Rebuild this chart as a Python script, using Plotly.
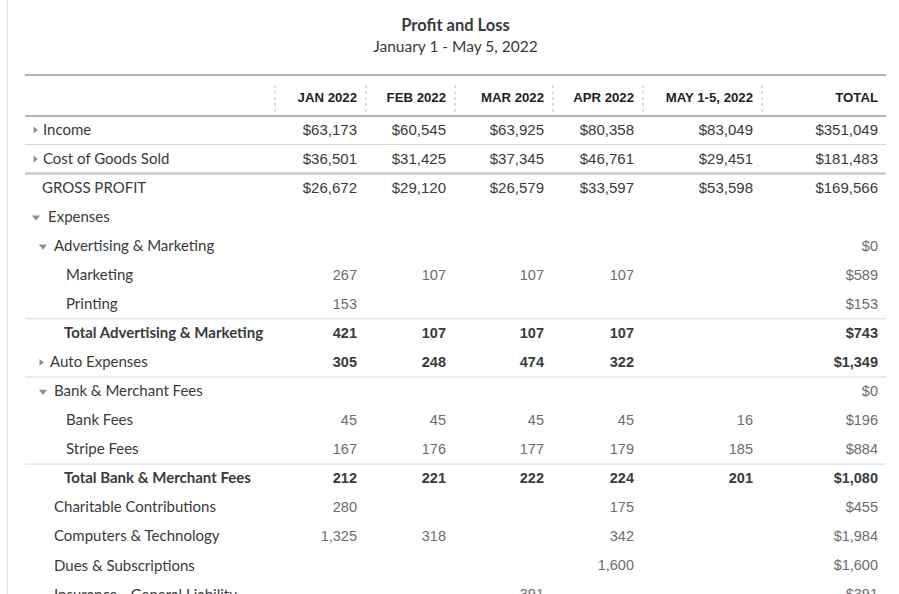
import plotly.graph_objects as go

# ---------------- data ----------------
title = "Profit and Loss"
subtitle = "January 1 - May 5, 2022"
columns = ["JAN 2022", "FEB 2022", "MAR 2022", "APR 2022", "MAY 1-5, 2022", "TOTAL"]

row_labels = [
    "Income", "Cost of Goods Sold", "GROSS PROFIT", "Expenses",
    "Advertising & Marketing", "Marketing", "Printing",
    "Total Advertising & Marketing", "Auto Expenses", "Bank & Merchant Fees",
    "Bank Fees", "Stripe Fees", "Total Bank & Merchant Fees",
    "Charitable Contributions", "Computers & Technology",
    "Dues & Subscriptions", "Insurance - General Liability",
]
row_kinds = ["section", "section", "section", "group", "group", "item", "item",
             "total", "total", "group", "item", "item", "total",
             "item", "item", "item", "item"]

jan = [63173, 36501, 26672, None, None, 267, 153, 421, 305, None, 45, 167, 212, 280, 1325, None, None]
feb = [60545, 31425, 29120, None, None, 107, None, 107, 248, None, 45, 176, 221, None, 318, None, None]
mar = [63925, 37345, 26579, None, None, 107, None, 107, 474, None, 45, 177, 222, None, None, None, 391]
apr = [80358, 46761, 33597, None, None, 107, None, 107, 322, None, 45, 179, 224, 175, 342, 1600, None]
may = [83049, 29451, 53598, None, None, None, None, None, None, None, 16, 185, 201, None, None, None, None]
total = [351049, 181483, 169566, None, 0, 589, 153, 743, 1349, 0, 196, 884, 1080, 455, 1984, 1600, 391]
series = [jan, feb, mar, apr, may, total]

# ---------------- layout / style ----------------
W, H = 899, 594
X_LEFT, X_RIGHT = 25, 886
col_left = [275, 366, 455, 553, 643, 762]
col_right = [c - 9 for c in col_left[1:]] + [X_RIGHT - 8]
ROW0, ROW_H = 130, 29.05
TEXT_DY = 1
HEADER_Y, TOP_LINE, HEADER_LINE = 99, 75, 116
label_x = [43, 43, 42, 48, 54, 66, 66, 64, 50, 54, 66, 66, 64, 54, 54, 54, 54]
toggles = {0: ("triangle-right", 35), 1: ("triangle-right", 35), 3: ("triangle-down", 36),
           4: ("triangle-down", 43), 8: ("triangle-right", 41), 9: ("triangle-down", 43)}
sep_after = {0: ("#d4d7dc", 1), 1: ("#c8cbd0", 2.5), 6: ("#d4d7dc", 1),
             8: ("#d4d7dc", 1), 11: ("#d4d7dc", 1)}

DARK = "#393a3d"
GRAY = "#6b6c72"
LABEL_FONT = "Lato, Noto Sans, sans-serif"
NUM_FONT = "Liberation Sans, Arial, sans-serif"


def row_y(i):
    return ROW0 + ROW_H * i


def fmt(v, kind, is_total):
    if v is None:
        return ""
    s = f"{v:,}"
    if kind == "section" or is_total:
        s = "$" + s
    return s


fig = go.Figure()

# row labels
bold_idx = [i for i, k in enumerate(row_kinds) if k == "total" and row_labels[i].startswith("Total")]
reg_idx = [i for i in range(len(row_labels)) if i not in bold_idx]
for group, w in [(reg_idx, "normal"), (bold_idx, "bold")]:
    fig.add_trace(go.Scatter(
        x=[label_x[i] for i in group], y=[row_y(i) + TEXT_DY for i in group],
        text=[row_labels[i] for i in group], mode="text",
        textposition="middle right",
        textfont=dict(family=LABEL_FONT, size=15, color=DARK, weight=w),
        hoverinfo="skip", showlegend=False))

# toggle triangles
for sym in ["triangle-right", "triangle-down"]:
    ks = [k for k, v in toggles.items() if v[0] == sym]
    fig.add_trace(go.Scatter(
        x=[toggles[k][1] for k in ks], y=[row_y(k) for k in ks], mode="markers",
        marker=dict(symbol=sym, size=6 if sym == "triangle-right" else 7, color="#8d9096",
                    line=dict(width=0)),
        hoverinfo="skip", showlegend=False))

# values
for c, vals in enumerate(series):
    is_total = c == len(series) - 1
    for style in ["section", "item", "bold"]:
        if style == "section":
            rows = [i for i, k in enumerate(row_kinds) if k == "section"]
            font = dict(family=NUM_FONT, size=15, color=DARK)
        elif style == "item":
            rows = [i for i, k in enumerate(row_kinds) if k in ("item", "group")]
            font = dict(family=NUM_FONT, size=14.5, color=GRAY)
        else:
            rows = [i for i, k in enumerate(row_kinds) if k == "total"]
            font = dict(family=NUM_FONT, size=14.5, color=DARK, weight="bold")
        rows = [i for i in rows if vals[i] is not None]
        if not rows:
            continue
        fig.add_trace(go.Scatter(
            x=[col_right[c]] * len(rows), y=[row_y(i) + TEXT_DY for i in rows],
            text=[fmt(vals[i], row_kinds[i], is_total) for i in rows],
            mode="text", textposition="middle left", textfont=font,
            hoverinfo="skip", showlegend=False))

# column headers
fig.add_trace(go.Scatter(
    x=col_right, y=[HEADER_Y] * len(columns), text=columns, mode="text",
    textposition="middle left",
    textfont=dict(family=NUM_FONT, size=13.2, color="#1f1f21", weight="bold"),
    hoverinfo="skip", showlegend=False))

# title
fig.add_trace(go.Scatter(
    x=[(X_LEFT + X_RIGHT) / 2] * 2, y=[27, 48], text=[title, subtitle], mode="text",
    textposition="middle center",
    textfont=dict(family=LABEL_FONT, size=[16.5, 15.5], color=DARK,
                  weight=["bold", "normal"]),
    hoverinfo="skip", showlegend=False))

shapes = []
# page border
shapes.append(dict(type="line", x0=7.5, x1=7.5, y0=0, y1=H, line=dict(color="#e3e5e8", width=1)))
# top lines
shapes.append(dict(type="line", x0=X_LEFT, x1=X_RIGHT, y0=TOP_LINE, y1=TOP_LINE,
                   line=dict(color="#6b6c72", width=1)))
shapes.append(dict(type="line", x0=X_LEFT, x1=X_RIGHT, y0=HEADER_LINE, y1=HEADER_LINE,
                   line=dict(color="#6b6c72", width=1.2)))
# header dotted separators
for xl in col_left:
    shapes.append(dict(type="line", x0=xl, x1=xl, y0=85, y1=HEADER_LINE - 1,
                       line=dict(color="#b8bcc2", width=1, dash="dot")))
# row separators
for i, (col, wd) in sep_after.items():
    yy = row_y(i) + ROW_H / 2
    shapes.append(dict(type="line", x0=X_LEFT, x1=X_RIGHT, y0=yy, y1=yy,
                       line=dict(color=col, width=wd)))

fig.update_layout(
    width=W, height=H, margin=dict(l=0, r=0, t=0, b=0),
    paper_bgcolor="white", plot_bgcolor="white", shapes=shapes,
    xaxis=dict(range=[0, W], visible=False, fixedrange=True),
    yaxis=dict(range=[H, 0], visible=False, fixedrange=True),
    showlegend=False,
)

fig.write_html("out.html", config={"displayModeBar": False},
               post_script="document.body.style.margin='0';document.body.style.overflow='hidden';")
